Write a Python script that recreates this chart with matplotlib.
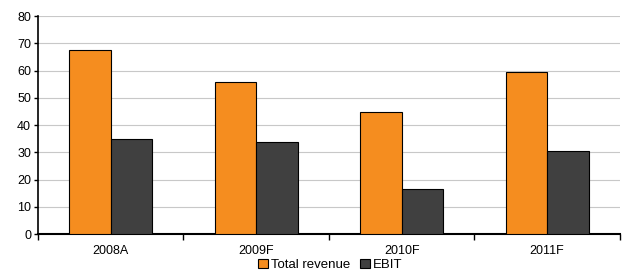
import matplotlib
matplotlib.use("Agg")
import matplotlib.pyplot as plt
import numpy as np

plt.rcParams['font.family'] = ['Liberation Sans', 'DejaVu Sans']

categories = ["2008A", "2009F", "2010F", "2011F"]
revenue = [67.6, 55.7, 44.8, 59.3]
ebit = [34.7, 33.9, 16.6, 30.3]

fig = plt.figure(figsize=(6.23, 2.76), dpi=100)
ax = fig.add_axes([0.061, 0.152, 0.934, 0.79])

x = np.arange(len(categories))
w = 0.285
ax.bar(x - w/2, revenue, w, color="#f58d1f", edgecolor="black", linewidth=0.8,
       label="Total revenue", zorder=3)
ax.bar(x + w/2, ebit, w, color="#404040", edgecolor="black", linewidth=0.8,
       label="EBIT", zorder=3)

ax.set_xlim(-0.5, len(categories) - 0.5)
ax.set_ylim(0, 80)
ax.set_yticks(range(0, 81, 10))
ax.yaxis.grid(True, color="#c8c8c8", linewidth=0.8, zorder=0)

ax.set_xticks(x)
ax.set_xticklabels(categories)
ax.set_xticks(np.arange(-0.5, len(categories)), minor=True)
ax.tick_params(axis="x", which="major", length=0, pad=8, labelsize=9)
ax.tick_params(axis="x", which="minor", length=4, width=1, direction="out")
ax.tick_params(axis="y", length=3, width=1, labelsize=9, pad=2)

for s in ["top", "right"]:
    ax.spines[s].set_visible(False)
ax.spines["left"].set_linewidth(1.2)
ax.spines["bottom"].set_linewidth(1.5)

fig.legend(loc="lower center", bbox_to_anchor=(0.53, -0.025), ncol=2, frameon=False,
           fontsize=9.5, handlelength=0.75, handleheight=0.75, handletextpad=0.25,
           columnspacing=0.7)

fig.savefig("out.png", dpi=100)
